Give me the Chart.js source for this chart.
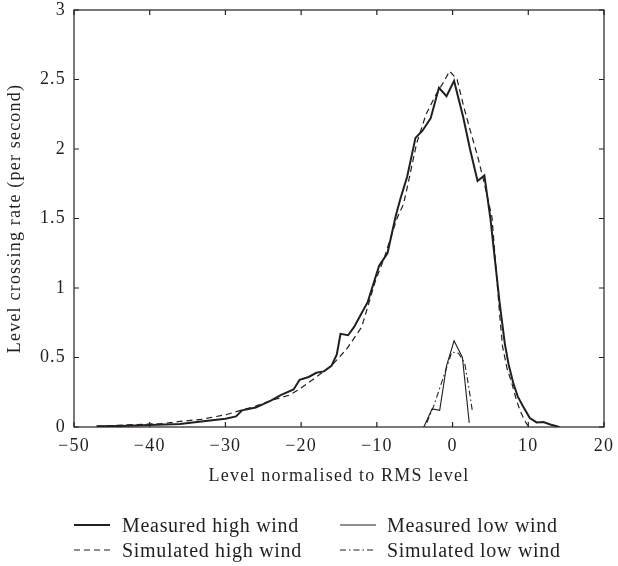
<!DOCTYPE html>
<html><head><meta charset="utf-8">
<script src="https://cdn.jsdelivr.net/npm/chart.js@4"></script>
<style>html,body{margin:0;padding:0;background:#fff}</style>
</head><body>
<canvas id="c" width="618" height="566"></canvas>
<script>
const xTicks = [-50,-40,-30,-20,-10,0,10,20];
const yTicks = [0,0.5,1,1.5,2,2.5,3];
const xTitle = 'Level normalised to RMS level';
const yTitle = 'Level crossing rate (per second)';
const seriesNames = ['Measured high wind','Measured low wind','Simulated high wind','Simulated low wind'];

const measHighX = [-47,-44,-40,-36,-33.2,-30,-28.6,-27.8,-26,-24,-22.7,-21,-20.2,-19,-18,-17,-16,-15.3,-14.8,-13.8,-13,-12.2,-11.2,-10.4,-9.7,-8.6,-7.5,-6.9,-6,-4.9,-4,-2.9,-1.8,-0.8,0.2,1.4,2.3,3.3,4.2,5.0,5.6,6.2,6.9,7.4,8.0,8.6,9.3,10.2,11.1,12.0,12.9,14.1];
const measHighY = [0.005,0.008,0.015,0.022,0.04,0.06,0.076,0.12,0.14,0.19,0.23,0.27,0.34,0.36,0.39,0.4,0.44,0.52,0.67,0.66,0.72,0.8,0.9,1.04,1.16,1.25,1.52,1.64,1.8,2.08,2.13,2.22,2.44,2.38,2.49,2.23,2.0,1.77,1.81,1.5,1.2,0.9,0.6,0.45,0.32,0.22,0.15,0.065,0.033,0.036,0.018,0.0];

const simHighX = [-47,-43,-38.5,-36,-33.2,-29.8,-28,-26,-24,-21.5,-20,-18,-16,-14,-12,-10.2,-9,-7.9,-7.2,-6.5,-6,-4.75,-3.5,-2.2,-1.2,-0.4,0.6,1.5,2.3,3.3,4.2,5.2,5.8,6.2,6.6,7.2,7.8,8.4,8.9,9.4,9.8,10.2];
const simHighY = [0.005,0.015,0.024,0.04,0.055,0.09,0.12,0.15,0.19,0.23,0.28,0.36,0.44,0.56,0.72,1.05,1.22,1.41,1.52,1.6,1.72,2.04,2.25,2.39,2.48,2.56,2.5,2.3,2.14,1.95,1.75,1.51,1.1,0.82,0.58,0.42,0.32,0.2,0.12,0.06,0.02,0.0];

const measLowX = [-3.8,-2.7,-1.7,-0.8,0.2,1.3,2.2];
const measLowY = [0.0,0.13,0.12,0.44,0.62,0.5,0.03];

const simLowX = [-3.4,-2.5,-1.2,-0.1,0.8,1.6,2.1,2.6];
const simLowY = [0.03,0.15,0.36,0.54,0.53,0.46,0.3,0.12];

const FONT = 'Liberation Serif';
const INK = '#231f20';

function pts(xs, ys){ return xs.map((x,i)=>({x:x, y:ys[i]})); }

const framePlugin = {
  id:'frameTicks',
  beforeDraw(chart){
    chart.ctx.letterSpacing = '1.2px';
  },
  afterDraw(chart){
    const ctx = chart.ctx, a = chart.chartArea;
    const xs = chart.scales.x, ys = chart.scales.y;
    ctx.save();
    ctx.strokeStyle = INK; ctx.lineWidth = 1.2; ctx.setLineDash([]);
    ctx.strokeRect(a.left, a.top, a.right-a.left, a.bottom-a.top);
    const L = 5;
    ctx.beginPath();
    xTicks.forEach(v=>{
      const p = xs.getPixelForValue(v);
      ctx.moveTo(p, a.bottom); ctx.lineTo(p, a.bottom-L);
      ctx.moveTo(p, a.top); ctx.lineTo(p, a.top+L);
    });
    yTicks.forEach(v=>{
      const p = ys.getPixelForValue(v);
      ctx.moveTo(a.left, p); ctx.lineTo(a.left+L, p);
      ctx.moveTo(a.right, p); ctx.lineTo(a.right-L, p);
    });
    ctx.stroke();
    // legend
    const items = [
      {ds:0, lx:74, tx:122, y:525},
      {ds:1, lx:340, tx:387, y:525},
      {ds:2, lx:74, tx:122, y:550},
      {ds:3, lx:340, tx:387, y:550}
    ];
    ctx.font = '20px "'+FONT+'"';
    ctx.letterSpacing = '0.7px';
    ctx.textBaseline = 'alphabetic';
    ctx.textAlign = 'left';
    ctx.fillStyle = INK;
    items.forEach(it=>{
      const d = chart.data.datasets[it.ds];
      ctx.beginPath();
      ctx.lineWidth = d.borderWidth;
      ctx.strokeStyle = d.borderColor;
      ctx.setLineDash(d.borderDash || []);
      ctx.moveTo(it.lx, it.y); ctx.lineTo(it.lx+36, it.y);
      ctx.stroke();
      ctx.setLineDash([]);
      ctx.fillText(d.label, it.tx, it.y+7);
    });
    ctx.restore();
  }
};

new Chart(document.getElementById('c'), {
  type:'line',
  data:{
    datasets:[
      {label:seriesNames[0], data:pts(measHighX,measHighY), borderColor:INK, borderWidth:2, borderDash:[], pointRadius:0, fill:false, tension:0},
      {label:seriesNames[1], data:pts(measLowX,measLowY), borderColor:INK, borderWidth:1.1, borderDash:[], pointRadius:0, fill:false, tension:0},
      {label:seriesNames[2], data:pts(simHighX,simHighY), borderColor:INK, borderWidth:1.2, borderDash:[6,4], pointRadius:0, fill:false, tension:0},
      {label:seriesNames[3], data:pts(simLowX,simLowY), borderColor:INK, borderWidth:1.1, borderDash:[6,3,1.5,3], pointRadius:0, fill:false, tension:0}
    ]
  },
  options:{
    responsive:false, animation:false, devicePixelRatio:1,
    layout:{padding:{left:0, top:10, right:14, bottom:79}},
    plugins:{legend:{display:false}, tooltip:{enabled:false}},
    scales:{
      x:{type:'linear', min:-50, max:20,
        grid:{display:false, drawTicks:false}, border:{display:false},
        afterBuildTicks(s){ s.ticks = xTicks.map(v=>({value:v})); },
        afterFit(s){ s.height = 60; s.paddingLeft = 0; s.paddingRight = 0; },
        ticks:{padding:8, color:INK, font:{family:FONT, size:18}, maxRotation:0,
          callback:v=>String(v).replace('-', '\u2212')},
        title:{display:true, text:xTitle, color:INK, font:{family:FONT, size:18}, padding:{top:0,bottom:0}}
      },
      y:{type:'linear', min:0, max:3,
        grid:{display:false, drawTicks:false}, border:{display:false},
        afterBuildTicks(s){ s.ticks = yTicks.map(v=>({value:v})); },
        afterFit(s){ s.width = 74; s.paddingTop = 0; s.paddingBottom = 0; },
        ticks:{padding:8, color:INK, font:{family:FONT, size:18}, callback:v=>String(v)},
        title:{display:true, text:yTitle, color:INK, font:{family:FONT, size:18}, padding:{top:4,bottom:0}}
      }
    }
  },
  plugins:[framePlugin]
});
</script>
</body></html>
